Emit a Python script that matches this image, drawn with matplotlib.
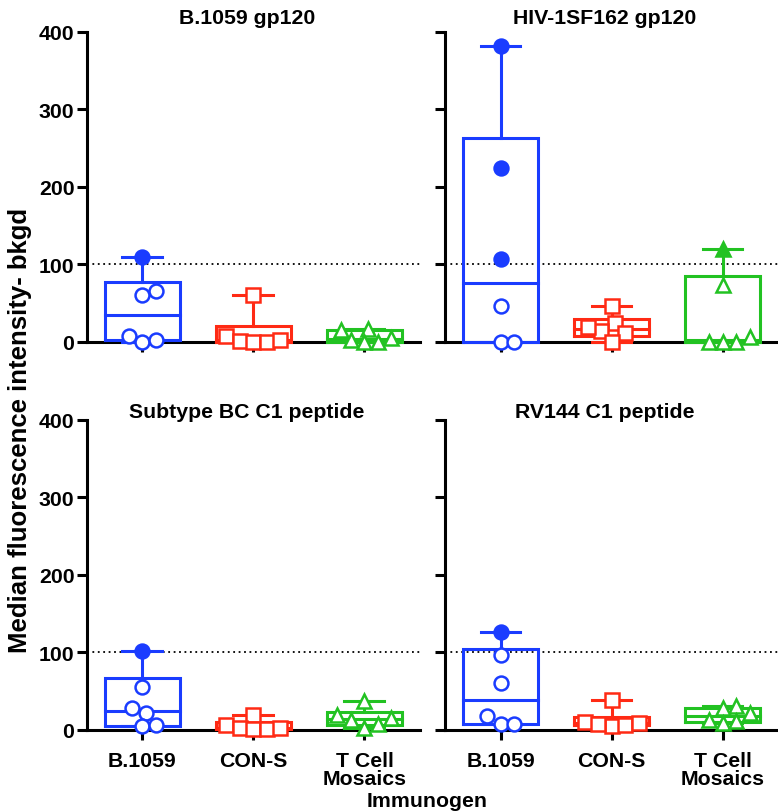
import numpy as np
import matplotlib
matplotlib.use("Agg")
import matplotlib.pyplot as plt

plt.rcParams['font.family'] = ['Liberation Sans', 'DejaVu Sans']
plt.rcParams['font.weight'] = 'bold'

# immunogen groups (x categories)
immunogens = ['B.1059', 'CON-S', 'T Cell\nMosaics']
panel_titles = ['B.1059 gp120', 'HIV-1SF162 gp120',
                'Subtype BC C1 peptide', 'RV144 C1 peptide']

# MFI - background, 6 animals per group
b1059_gp120 = [[110, 66, 61, 8, 0, 3],
               [60, 8, 1, 0, 0, 3],
               [2, 17, 15, 5, 0, 0]]
sf162_gp120 = [[382, 224, 107, 46, 0, 0],
               [47, 24, 14, 19, 11, 0],
               [120, 73, 0, 0, 0, 6]]
bc_c1_peptide = [[102, 55, 28, 22, 5, 6],
                 [19, 7, 2, 1, 1, 2],
                 [38, 19, 13, 3, 8, 15]]
rv144_c1_peptide = [[127, 97, 60, 18, 8, 8],
                    [39, 10, 5, 7, 9, 8],
                    [31, 28, 13, 9, 11, 22]]
panel_data = [b1059_gp120, sf162_gp120, bc_c1_peptide, rv144_c1_peptide]

cutoff = 100  # positivity threshold (dotted line, filled markers above)

colors = ['#1a3cff', '#ff2a14', '#22c222']
markers = ['o', 's', '^']
fs = 15.3


def swarm_x(ax, x0, vals, diam):
    # simple beeswarm in pixel space so markers do not overlap
    trans = ax.transData
    inv = trans.inverted()
    step = diam / 4.0
    cands = [0.0]
    for k in range(1, 40):
        cands += [k * step, -k * step]
    placed = []
    xs = np.zeros(len(vals))
    for i in np.argsort(vals, kind='stable'):
        px, py = trans.transform((x0, vals[i]))
        for c in cands:
            cx = px + c
            if all(np.hypot(cx - qx, py - qy) >= diam for qx, qy in placed):
                break
        placed.append((cx, py))
        xs[i] = inv.transform((cx, py))[0]
    return xs


fig = plt.figure(figsize=(7.78, 8.12), dpi=100)
rects = [[0.1118, 0.5776, 0.428, 0.3818],
         [0.5720, 0.5776, 0.4280, 0.3818],
         [0.1118, 0.0998, 0.428, 0.3818],
         [0.5720, 0.0998, 0.4280, 0.3818]]

for p, (rect, data, title) in enumerate(zip(rects, panel_data, panel_titles)):
    ax = fig.add_axes(rect)
    ax.set_xlim(-0.5, 2.5)
    ax.set_ylim(0, 400)
    for side in ['top', 'right']:
        ax.spines[side].set_visible(False)
    for side in ['left', 'bottom']:
        ax.spines[side].set_linewidth(2.2)
    ax.tick_params(width=2.2, length=7, labelsize=fs, pad=2)
    ax.tick_params(axis='x', pad=8)
    ax.set_yticks([0, 100, 200, 300, 400])
    ax.set_xticks(range(3))
    if p % 2 == 1:
        ax.set_yticklabels([])
    if p < 2:
        ax.set_xticklabels([])
    else:
        ax.set_xticklabels(immunogens, linespacing=0.95)
    ax.axhline(cutoff, color='black', ls=(0, (1, 2)), lw=1.3, zorder=1)
    ty = 1.048 if p < 2 else 1.026
    ax.text(0.48, ty, title, transform=ax.transAxes, ha='center', va='center',
            fontsize=fs, fontweight='bold')

    for g, vals in enumerate(data):
        vals = np.array(vals, dtype=float)
        col = colors[g]
        q1, med, q3 = np.percentile(vals, [25, 50, 75], method='weibull')
        lo, hi = vals.min(), vals.max()
        hw = 0.335
        cw = 0.18
        lw = 2.2
        ax.plot([g - hw, g + hw, g + hw, g - hw, g - hw], [q1, q1, q3, q3, q1],
                color=col, lw=lw, zorder=3, clip_on=False, solid_joinstyle='miter')
        ax.plot([g - hw, g + hw], [med, med], color=col, lw=lw, zorder=3)
        ax.plot([g, g], [q3, hi], color=col, lw=lw, zorder=3)
        ax.plot([g, g], [lo, q1], color=col, lw=lw, zorder=3, clip_on=False)
        ax.plot([g - cw, g + cw], [hi, hi], color=col, lw=lw, zorder=3)
        ax.plot([g - cw, g + cw], [lo, lo], color=col, lw=lw, zorder=3, clip_on=False)

        xs = swarm_x(ax, g, vals, 13.5)
        for x, v in zip(xs, vals):
            face = col if v > cutoff else 'white'
            ax.plot(x, v, marker=markers[g], ms=10 if g == 0 else 9.5,
                    mfc=face, mec=col, mew=1.8, ls='none', zorder=4, clip_on=False)

fig.text(0.026, 0.47, 'Median fluorescence intensity- bkgd', rotation=90,
         ha='center', va='center', fontsize=18.5, fontweight='bold')
fig.text(0.549, 0.0135, 'Immunogen', ha='center', va='center',
         fontsize=fs, fontweight='bold')

fig.savefig('out.png', dpi=100)
